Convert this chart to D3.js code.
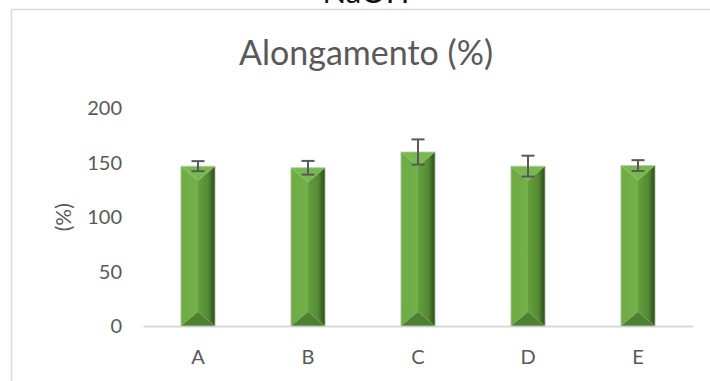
<!DOCTYPE html>
<html>
<head>
<meta charset="utf-8">
<script src="https://cdn.jsdelivr.net/npm/d3@7"></script>
<style>
  html, body { margin: 0; padding: 0; background: #fff; overflow: hidden; }
  text { font-family: Lato, "Open Sans", sans-serif; }
</style>
</head>
<body>
<svg id="chart"></svg>
<script>
// data
var categories = ["A", "B", "C", "D", "E"];
var values = [147, 145.5, 160, 147, 147.5];
var errors = [4.6, 6.3, 11.6, 9.6, 5];
var yTicks = [0, 50, 100, 150, 200];

var width = 710, height = 381;
var svg = d3.select("#chart")
    .attr("width", width)
    .attr("height", height);

var data = categories.map(function(c, i) {
    return {cat: c, val: values[i], err: errors[i]};
});

// chart area border (runs off the right and bottom of the picture)
svg.append("rect")
    .attr("x", 11.5).attr("y", 9.5)
    .attr("width", 800).attr("height", 500)
    .attr("fill", "none")
    .attr("stroke", "#d9d9d9")
    .attr("stroke-width", 1.5);

// heading above the chart, only its foot shows in the picture
svg.append("text")
    .attr("x", 366).attr("y", 3)
    .attr("text-anchor", "middle")
    .style("font-size", "31px")
    .style("fill", "#111")
    .text("NaOH");

// title
svg.append("text")
    .attr("x", 366).attr("y", 65)
    .attr("text-anchor", "middle")
    .style("font-size", "34px")
    .style("font-weight", 400)
    .style("fill", "#595959")
    .text("Alongamento (%)");

var x = d3.scaleBand()
    .domain(categories)
    .range([143, 693])
    .paddingInner(0.69)
    .paddingOuter(0.345);

var y = d3.scaleLinear()
    .domain([0, 200])
    .range([326, 108.5]);

// y axis: labels only
var yAxis = svg.append("g")
    .attr("transform", "translate(122,0)")
    .call(d3.axisLeft(y).tickValues(yTicks).tickSize(0).tickPadding(0));
yAxis.select(".domain").remove();
yAxis.selectAll("text")
    .style("font-family", "Lato, 'Open Sans', sans-serif")
    .style("font-size", "20px")
    .style("fill", "#595959");

// y axis title
svg.append("text")
    .attr("transform", "translate(71," + y(100) + ") rotate(-90)")
    .attr("text-anchor", "middle")
    .style("font-size", "21px")
    .style("fill", "#595959")
    .text("(%)");

// x axis: line + labels
var xAxis = svg.append("g")
    .attr("transform", "translate(0," + y(0) + ")")
    .call(d3.axisBottom(x).tickSize(0).tickPadding(24));
xAxis.select(".domain")
    .attr("stroke", "#d9d9d9")
    .attr("stroke-width", 2);
xAxis.selectAll("text")
    .style("font-family", "Lato, 'Open Sans', sans-serif")
    .style("font-size", "20px")
    .style("fill", "#595959");

// gradient for the shaded right face of each bar
var defs = svg.append("defs");
var grad = defs.append("linearGradient")
    .attr("id", "rightFace")
    .attr("x1", "0%").attr("x2", "100%")
    .attr("y1", "0%").attr("y2", "0%");
grad.append("stop").attr("offset", "0%").attr("stop-color", "#65a03f");
grad.append("stop").attr("offset", "60%").attr("stop-color", "#548a34");
grad.append("stop").attr("offset", "100%").attr("stop-color", "#2b4a19");

var leftGrad = defs.append("linearGradient")
    .attr("id", "leftFace")
    .attr("x1", "0%").attr("x2", "100%")
    .attr("y1", "0%").attr("y2", "0%");
leftGrad.append("stop").attr("offset", "0%").attr("stop-color", "#6eab45");
leftGrad.append("stop").attr("offset", "100%").attr("stop-color", "#72b049");

// bevelled bars
function draw_bar(d) {
    var x0 = x(d.cat), x1 = x0 + x.bandwidth(), xc = (x0 + x1) / 2;
    var y0 = y(d.val), y1 = y(0);
    var dep = Math.min(x.bandwidth() * 0.42, (y1 - y0) / 2);
    var g = d3.select(this);

    // left face
    g.append("polygon")
        .attr("points", [[x0, y0], [xc, y0 + dep], [xc, y1 - dep], [x0, y1]].join(" "))
        .attr("fill", "url(#leftFace)");
    // right face
    g.append("polygon")
        .attr("points", [[xc, y0 + dep], [x1, y0], [x1, y1], [xc, y1 - dep]].join(" "))
        .attr("fill", "url(#rightFace)");
    // top triangle
    g.append("polygon")
        .attr("points", [[x0, y0], [x1, y0], [xc, y0 + dep]].join(" "))
        .attr("fill", "#78b84e");
    // bottom triangle
    g.append("polygon")
        .attr("points", [[x0, y1], [x1, y1], [xc, y1 - dep]].join(" "))
        .attr("fill", "#4f8030");
    // thin light outline
    g.append("rect")
        .attr("x", x0).attr("y", y0)
        .attr("width", x1 - x0).attr("height", y1 - y0)
        .attr("fill", "none")
        .attr("stroke", "#b9c9ae")
        .attr("stroke-width", 0.8);
}

svg.append("g")
    .selectAll("g.bar")
    .data(data)
    .enter()
    .append("g")
    .attr("class", "bar")
    .each(draw_bar);

// error bars
var capW = 6.5;
var eb = svg.append("g")
    .attr("stroke", "#595959")
    .attr("stroke-width", 2)
    .selectAll("g")
    .data(data)
    .enter()
    .append("g");
eb.append("line")
    .attr("x1", d => x(d.cat) + x.bandwidth() / 2)
    .attr("x2", d => x(d.cat) + x.bandwidth() / 2)
    .attr("y1", d => y(d.val + d.err))
    .attr("y2", d => y(d.val - d.err));
eb.append("line")
    .attr("x1", d => x(d.cat) + x.bandwidth() / 2 - capW)
    .attr("x2", d => x(d.cat) + x.bandwidth() / 2 + capW)
    .attr("y1", d => y(d.val + d.err))
    .attr("y2", d => y(d.val + d.err));
eb.append("line")
    .attr("x1", d => x(d.cat) + x.bandwidth() / 2 - capW)
    .attr("x2", d => x(d.cat) + x.bandwidth() / 2 + capW)
    .attr("y1", d => y(d.val - d.err))
    .attr("y2", d => y(d.val - d.err));
</script>
</body>
</html>
